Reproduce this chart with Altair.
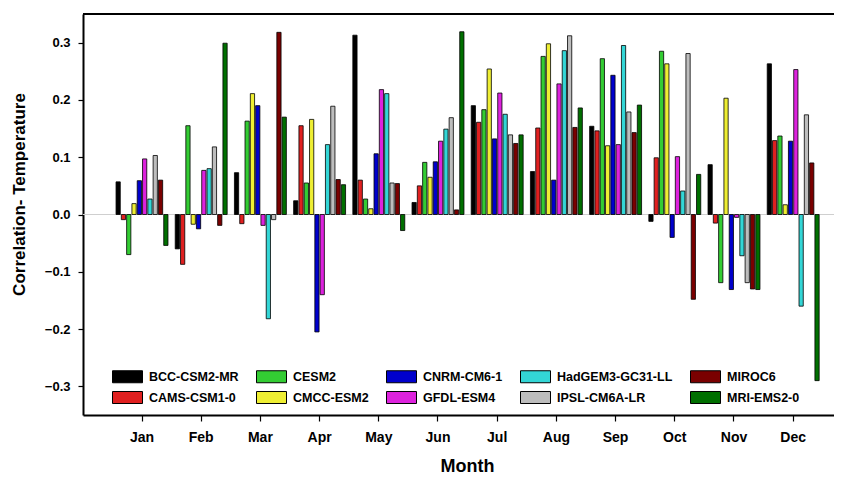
import altair as alt
import pandas as pd

months = ["Jan", "Feb", "Mar", "Apr", "May", "Jun", "Jul", "Aug", "Sep", "Oct", "Nov", "Dec"]
models = ["BCC-CSM2-MR", "CAMS-CSM1-0", "CESM2", "CMCC-ESM2", "CNRM-CM6-1",
          "GFDL-ESM4", "HadGEM3-GC31-LL", "IPSL-CM6A-LR", "MIROC6", "MRI-EMS2-0"]
model_colors = ["#000000", "#e02020", "#33cc33", "#eeee33", "#0000cc",
                "#dd22dd", "#33d6d6", "#bdbdbd", "#7a0000", "#006f00"]

bcc   = [0.057, -0.060, 0.073, 0.024, 0.313, 0.021, 0.190, 0.075, 0.154, -0.012, 0.087, 0.263]
cams  = [-0.009, -0.087, -0.016, 0.155, 0.060, 0.050, 0.161, 0.151, 0.146, 0.099, -0.015, 0.129]
cesm2 = [-0.070, 0.155, 0.163, 0.055, 0.027, 0.091, 0.183, 0.276, 0.272, 0.285, -0.119, 0.137]
cmcc  = [0.019, -0.017, 0.211, 0.166, 0.010, 0.065, 0.254, 0.298, 0.120, 0.263, 0.203, 0.017]
cnrm  = [0.059, -0.025, 0.190, -0.205, 0.106, 0.092, 0.132, 0.060, 0.243, -0.040, -0.131, 0.128]
gfdl  = [0.097, 0.077, -0.019, -0.140, 0.218, 0.128, 0.212, 0.228, 0.122, 0.101, -0.005, 0.253]
had   = [0.027, 0.080, -0.182, 0.122, 0.211, 0.149, 0.175, 0.286, 0.295, 0.041, -0.072, -0.160]
ipsl  = [0.103, 0.118, -0.009, 0.189, 0.055, 0.169, 0.139, 0.312, 0.179, 0.281, -0.119, 0.174]
miroc = [0.060, -0.019, 0.318, 0.061, 0.054, 0.008, 0.124, 0.152, 0.143, -0.148, -0.130, 0.090]
mri   = [-0.054, 0.299, 0.170, 0.052, -0.028, 0.319, 0.139, 0.186, 0.191, 0.070, -0.131, -0.290]

series = [bcc, cams, cesm2, cmcc, cnrm, gfdl, had, ipsl, miroc, mri]

rows = []
for model, vals in zip(models, series):
    for mon, v in zip(months, vals):
        rows.append({"month": mon, "model": model, "value": v})
df = pd.DataFrame(rows)

FONT = "Liberation Sans"

bars = alt.Chart(df).mark_bar(stroke="black", strokeWidth=0.8).encode(
    x=alt.X("month:N", sort=months,
            scale=alt.Scale(paddingInner=0, paddingOuter=0.343, align=0.724),
            axis=alt.Axis(title="Month", labelAngle=0, labelFont=FONT, labelFontWeight="bold",
                          labelFontSize=14, labelColor="black", labelPadding=9,
                          tickColor="black", tickSize=6, tickWidth=1.2,
                          domainColor="black", domainWidth=2,
                          titleFont=FONT, titleFontWeight="bold", titleFontSize=18,
                          titleColor="black", titlePadding=13, titleX=384)),
    xOffset=alt.XOffset("model:N", sort=models,
                        scale=alt.Scale(paddingInner=0.2, paddingOuter=0.685)),
    y=alt.Y("value:Q", stack=None,
            scale=alt.Scale(domain=[-0.35, 0.35], nice=False, zero=False),
            axis=alt.Axis(title="Correlation- Temperature", values=[-0.3, -0.2, -0.1, 0.0, 0.1, 0.2, 0.3],
                          format=".1f", grid=False, labelFont=FONT, labelFontWeight="bold",
                          labelFontSize=13, labelColor="black", labelPadding=8,
                          tickColor="black", tickSize=5, tickWidth=1.2,
                          domainColor="black", domainWidth=2,
                          titleFont=FONT, titleFontWeight="bold", titleFontSize=17,
                          titleColor="black", titlePadding=16, titleY=180)),
    color=alt.Color("model:N",
                    scale=alt.Scale(domain=models, range=model_colors),
                    legend=alt.Legend(title=None, orient="none", legendX=38, legendY=356,
                                      columns=5, symbolType="M-2.5,-1H2.5V1H-2.5Z",
                                      symbolSize=144, symbolStrokeColor="black",
                                      symbolStrokeWidth=1, symbolOpacity=1,
                                      labelFont=FONT, labelFontWeight="bold",
                                      labelFontSize=12.5, labelColor="black",
                                      labelOffset=15, columnPadding=15, rowPadding=4,
                                      labelLimit=0, padding=0)),
)

zero_line = alt.Chart().mark_rule(color="#cfcfcf", strokeWidth=1).encode(y=alt.datum(0.0))
top_line = alt.Chart().mark_rule(color="black", strokeWidth=2).encode(y=alt.datum(0.35))

chart = alt.layer(zero_line, bars, top_line).properties(
    width=751, height=401,
    autosize=alt.AutoSizeParams(type="none"),
    padding={"left": 75, "top": 6, "right": 0, "bottom": 66},
    background="white",
).configure_view(stroke=None)

chart.save("out.html", embed_options={"renderer": "svg", "actions": False})
